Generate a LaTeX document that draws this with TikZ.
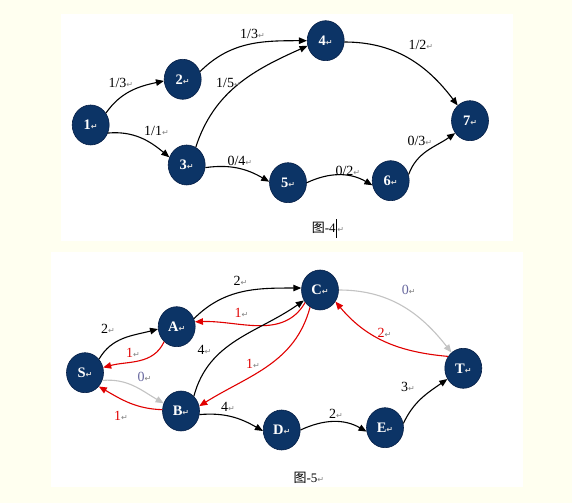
\documentclass[tikz,border=0pt]{standalone}
\usepackage{fontspec}
\setmainfont{Liberation Serif}
\newfontfamily\symfont{DejaVu Sans}
\newfontfamily\cjk{Noto Sans CJK SC}
\usetikzlibrary{shapes.geometric,arrows.meta}
\definecolor{cream}{RGB}{255,255,240}
\definecolor{navy}{RGB}{12,52,102}
\definecolor{navyedge}{RGB}{5,30,70}
\definecolor{redline}{RGB}{225,0,0}
\definecolor{grayline}{RGB}{195,195,195}
\definecolor{slate}{RGB}{105,105,160}
\definecolor{retgray}{RGB}{130,130,130}
\newcommand\retmk{{\symfont\color{retgray}\fontsize{8}{8}\selectfont ↵}}
\newcommand\retmkw{{\symfont\color{white!70!gray}\fontsize{8}{8}\selectfont ↵}}
\tikzset{
  vtx/.style={ellipse, minimum width=37pt, minimum height=40pt, inner sep=0pt,
    fill=navy, draw=navyedge, line width=0.6pt, text=white,
    font=\fontsize{14.5}{14.5}\selectfont\bfseries},
  lbl/.style={anchor=west, inner sep=0pt, font=\fontsize{14}{14}\selectfont},
  captxt/.style={anchor=west, inner sep=0pt, font=\fontsize{13}{13}\selectfont},
  conn/.style={line width=1.1pt, -{Triangle[length=8pt,width=6.5pt]}},
  blk/.style={conn, draw=black},
  rd/.style={conn, draw=redline},
  gy/.style={conn, draw=grayline}
}
\begin{document}
\begin{tikzpicture}[x=1pt,y=1pt]
\useasboundingbox (0,0) rectangle (572,503);
\fill[cream] (0,0) rectangle (572,503);
\fill[white] (61,262) rectangle (513,489);
\fill[white] (51,16) rectangle (523,251);

% ---------- Figure 4 ----------
\node[vtx] (n1) at (90.7,378) {1\retmkw};
\node[vtx] (n2) at (182.7,423.7) {2\retmkw};
\node[vtx] (n3) at (186.7,338) {3\retmkw};
\node[vtx] (n4) at (325.7,462.3) {4\retmkw};
\node[vtx] (n5) at (288,320.3) {5\retmkw};
\node[vtx] (n6) at (390.7,322.3) {6\retmkw};
\node[vtx] (n7) at (470,382.3) {7\retmkw};

\draw[blk] (n1.38) to[out=55,in=192] (n2.185);
\draw[blk] (n1.-25) to[out=5,in=140] (n3.156);
\draw[blk] (n2.24) to[out=45,in=180] (n4.180);
\draw[blk] (n3.63) to[out=72,in=204] (n4.196);
\draw[blk] (n4.-4) to[out=0,in=127] (n7.129);
\draw[blk] (n3.-8) to[out=8,in=150] (n5.177);
\draw[blk] (n5.0) to[out=25,in=150] (n6.194);
\draw[blk] (n6.19) to[out=70,in=215] (n7.220);

\node[lbl] (l12) at (108.3,419.7) {1/3\retmk};
\node[lbl] (l24) at (240,468.7) {1/3\retmk};
\node[lbl] (l34) at (216,419.7) {1/5\retmk};
\node[lbl] (l13) at (144,372) {1/1\retmk};
\node[lbl] (l35) at (227.3,342.3) {0/4\retmk};
\node[lbl] (l56) at (335.3,332.3) {0/2\retmk};
\node[lbl] (l67) at (407.3,362) {0/3\retmk};
\node[lbl] (l47) at (408.3,458.3) {1/2\retmk};
\node[captxt] (cap4) at (311.7,274.7) {{\cjk 图}-4\rule[-5pt]{1.6pt}{19pt}\retmk};

% ---------- Figure 5 ----------
\node[vtx] (S) at (85,130.3) {S\retmkw};
\node[vtx] (A) at (176.7,176.3) {A\retmkw};
\node[vtx] (B) at (181,92) {B\retmkw};
\node[vtx] (C) at (320,213) {C\retmkw};
\node[vtx] (D) at (281.7,73) {D\retmkw};
\node[vtx] (E) at (385,75.3) {E\retmkw};
\node[vtx] (T) at (463.3,134.7) {T\retmkw};

\draw[blk] (S.44) to[out=60,in=195] (A.187);
\draw[rd]  (A.230) to[out=245,in=15] (S.16);
\draw[gy]  (S.-24) to[out=5,in=150] (B.156);
\draw[rd]  (B.176) to[out=178,in=-30] (S.-45);
\draw[blk] (A.25) to[out=45,in=180] (C.174);
\draw[rd]  (C.220) to[out=240,in=2] (A.15);
\draw[blk] (B.49) to[out=75,in=215] (C.213);
\draw[rd]  (C.240) to[out=255,in=32] (B.15);
\draw[gy]  (C.0) to[out=0,in=128] (T.127);
\draw[rd]  (T.142) to[out=175,in=-50] (C.-37);
\draw[blk] (B.-11) to[out=5,in=150] (D.183);
\draw[blk] (D.0) to[out=25,in=150] (E.192);
\draw[blk] (E.13) to[out=65,in=215] (T.214);

\node[lbl] (lSA) at (101,174) {2\retmk};
\node[lbl,text=redline] (lAS) at (126,149.7) {1\retmk};
\node[lbl,text=slate] (lSB) at (137.3,125.7) {0\retmk};
\node[lbl,text=redline] (lBS) at (114,87.3) {1\retmk};
\node[lbl] (lAC) at (233.3,222) {2\retmk};
\node[lbl,text=redline] (lCA) at (234.3,189.7) {1\retmk};
\node[lbl] (lBC) at (197.3,153) {4\retmk};
\node[lbl,text=redline] (lCB) at (246,138.7) {1\retmk};
\node[lbl,text=slate] (lCT) at (401.7,213) {0\retmk};
\node[lbl,text=redline] (lTC) at (377.3,170.3) {2\retmk};
\node[lbl] (lBD) at (221,96.3) {4\retmk};
\node[lbl] (lDE) at (329,88.7) {2\retmk};
\node[lbl] (lET) at (401,116.3) {3\retmk};
\node[captxt] (cap5) at (293.3,25.3) {{\cjk 图}-5\retmk};
\end{tikzpicture}
\end{document}
